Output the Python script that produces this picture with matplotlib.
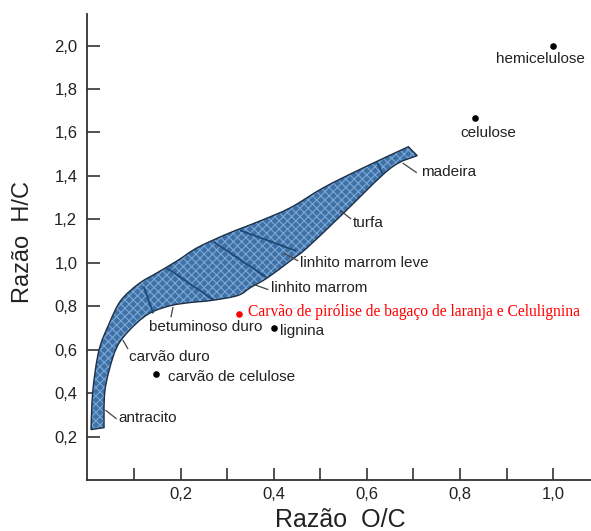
import matplotlib
matplotlib.use("Agg")
import matplotlib.pyplot as plt
from matplotlib.patches import PathPatch
from matplotlib.path import Path
from matplotlib.ticker import FixedLocator, FuncFormatter

plt.rcParams['font.family'] = ['Liberation Sans', 'DejaVu Sans']
plt.rcParams['hatch.linewidth'] = 0.8

# Reference materials (O/C, H/C)
ref_names = ["hemicelulose", "celulose", "lignina", "carvão de celulose"]
ref_oc = [1.0, 0.833, 0.40, 0.146]
ref_hc = [2.0, 1.667, 0.70, 0.49]

# Pyrolysis char sample
sample_name = "Carvão de pirólise de bagaço de laranja e Celulignina"
sample_oc = 0.324
sample_hc = 0.766

# Coalification band: upper edge (antracito -> madeira) and lower edge (madeira -> antracito)
band_upper_oc = [0.007, 0.011, 0.024, 0.046, 0.071, 0.110, 0.150, 0.193, 0.236,
                 0.301, 0.372, 0.436, 0.507, 0.593, 0.689]
band_upper_hc = [0.232, 0.412, 0.596, 0.720, 0.826, 0.904, 0.955, 1.010, 1.070,
                 1.134, 1.194, 1.254, 1.346, 1.438, 1.534]
band_lower_oc = [0.708, 0.650, 0.549, 0.472, 0.436, 0.387, 0.350, 0.322, 0.264,
                 0.221, 0.179, 0.136, 0.104, 0.071, 0.054, 0.037, 0.035]
band_lower_hc = [1.493, 1.434, 1.227, 1.070, 1.010, 0.932, 0.886, 0.849, 0.826,
                 0.817, 0.803, 0.771, 0.720, 0.642, 0.564, 0.412, 0.241]

# Boundaries between coal ranks across the band
divider_oc = [(0.121, 0.140), (0.172, 0.269), (0.273, 0.382), (0.329, 0.446), (0.623, 0.633)]
divider_hc = [(0.886, 0.771), (0.973, 0.831), (1.093, 0.936), (1.148, 1.056), (1.457, 1.411)]

# Rank labels with their leader lines
rank_names = ["madeira", "turfa", "linhito marrom leve", "linhito marrom",
              "betuminoso duro", "carvão duro", "antracito"]

x_ticks = [0.2, 0.4, 0.6, 0.8, 1.0]
x_minor = [0.1, 0.3, 0.5, 0.7, 0.9]
y_ticks = [0.2, 0.4, 0.6, 0.8, 1.0, 1.2, 1.4, 1.6, 1.8, 2.0]


def smooth_edge(xs, ys):
    """Cubic Bezier segments (Catmull-Rom tangents) through the given vertices."""
    p = list(zip(xs, ys))
    verts, codes = [], []
    for i in range(len(p) - 1):
        p0 = p[i - 1] if i > 0 else p[i]
        p1, p2 = p[i], p[i + 1]
        p3 = p[i + 2] if i + 2 < len(p) else p[i + 1]
        c1 = (p1[0] + (p2[0] - p0[0]) / 6, p1[1] + (p2[1] - p0[1]) / 6)
        c2 = (p2[0] - (p3[0] - p1[0]) / 6, p2[1] - (p3[1] - p1[1]) / 6)
        verts += [c1, c2, p2]
        codes += [Path.CURVE4] * 3
    return verts, codes


up_v, up_c = smooth_edge(band_upper_oc, band_upper_hc)
lo_v, lo_c = smooth_edge(band_lower_oc, band_lower_hc)
verts = [(band_upper_oc[0], band_upper_hc[0])] + up_v \
    + [(band_lower_oc[0], band_lower_hc[0])] + lo_v + [(0, 0)]
codes = [Path.MOVETO] + up_c + [Path.LINETO] + lo_c + [Path.CLOSEPOLY]
band_path = Path(verts, codes)

fig = plt.figure(figsize=(5.91, 5.31), dpi=100)
ax = fig.add_axes([87 / 591, 51 / 531, 1 - 87 / 591, 466 / 531])
ax.set_xlim(-0.0016, 1.0815)
ax.set_ylim(0.0, 2.145)

ink = '#222222'
for s in ('top', 'right'):
    ax.spines[s].set_visible(False)
for s in ('left', 'bottom'):
    ax.spines[s].set_linewidth(1.3)
    ax.spines[s].set_color('#333333')

# band
ax.add_patch(PathPatch(band_path, facecolor='#3d71a8', edgecolor='none', zorder=2))
ax.add_patch(PathPatch(band_path, facecolor='none', edgecolor='#7ea8d3',
                       hatch='xxxx', linewidth=0, zorder=3))
ax.add_patch(PathPatch(band_path, facecolor='none', edgecolor='#1c2f45',
                       linewidth=1.0, zorder=4))
for xs, ys in zip(divider_oc, divider_hc):
    ax.plot(xs, ys, color='#1d4a75', lw=1.3, zorder=4)

# leader lines and rank labels
leaders = [((0.678, 0.706), (1.457, 1.416)),
           ((0.543, 0.565), (1.240, 1.203)),
           ((0.423, 0.451), (1.042, 1.010)),
           ((0.357, 0.387), (0.900, 0.877)),
           ((0.183, 0.179), (0.794, 0.752)),
           ((0.076, 0.086), (0.642, 0.605)),
           ((0.039, 0.061), (0.320, 0.283))]
label_pos = [(0.717, 1.416), (0.569, 1.185), (0.457, 1.001), (0.393, 0.886),
             (0.131, 0.702), (0.088, 0.568), (0.065, 0.287)]
for name, (lx, ly), (tx, ty) in zip(rank_names, leaders, label_pos):
    ax.plot(lx, ly, color='#444444', lw=0.9, zorder=5)
    ax.text(tx, ty, name, fontsize=11, color=ink, ha='left', va='center', zorder=6)

# reference points
ax.scatter(ref_oc, ref_hc, s=14, color='black', zorder=6)
ref_text = [(0.972, 1.940, 'center'), (0.861, 1.595, 'center'),
            (0.414, 0.688, 'left'), (0.172, 0.476, 'left')]
for name, (tx, ty, ha) in zip(ref_names, ref_text):
    ax.text(tx, ty, name, fontsize=11, color=ink, ha=ha, va='center', zorder=6)

# sample point
ax.scatter([sample_oc], [sample_hc], s=14, color='#ff0000', zorder=6)
ax.text(0.344, 0.775, sample_name, fontsize=11.2, color='#ff0000', ha='left', va='center',
        family=['Liberation Serif', 'DejaVu Serif'], zorder=6, clip_on=False)

# ticks
ax.xaxis.set_major_locator(FixedLocator(x_ticks))
ax.xaxis.set_minor_locator(FixedLocator(x_minor))
ax.yaxis.set_major_locator(FixedLocator(y_ticks))
fmt = FuncFormatter(lambda v, p: f"{v:.1f}".replace('.', ','))
ax.xaxis.set_major_formatter(fmt)
ax.yaxis.set_major_formatter(fmt)
ax.tick_params(axis='both', which='both', direction='in', width=1.2, color='#333333',
               labelsize=12, labelcolor=ink)
ax.tick_params(axis='x', which='both', length=8.6, pad=5)
ax.tick_params(axis='y', which='both', length=9.4, pad=7)
for t in ax.xaxis.get_major_ticks() + ax.xaxis.get_minor_ticks() + ax.yaxis.get_major_ticks():
    t.tick1line.set_zorder(7)

fig.text(340 / 591, 1 - 520 / 531, "Razão  O/C", fontsize=18, color=ink, ha='center', va='center')
fig.text(23 / 591, 1 - 242 / 531, "Razão  H/C", fontsize=17, color=ink, ha='center', va='center',
         rotation=90)

fig.savefig("out.png", dpi=100, facecolor='white')
